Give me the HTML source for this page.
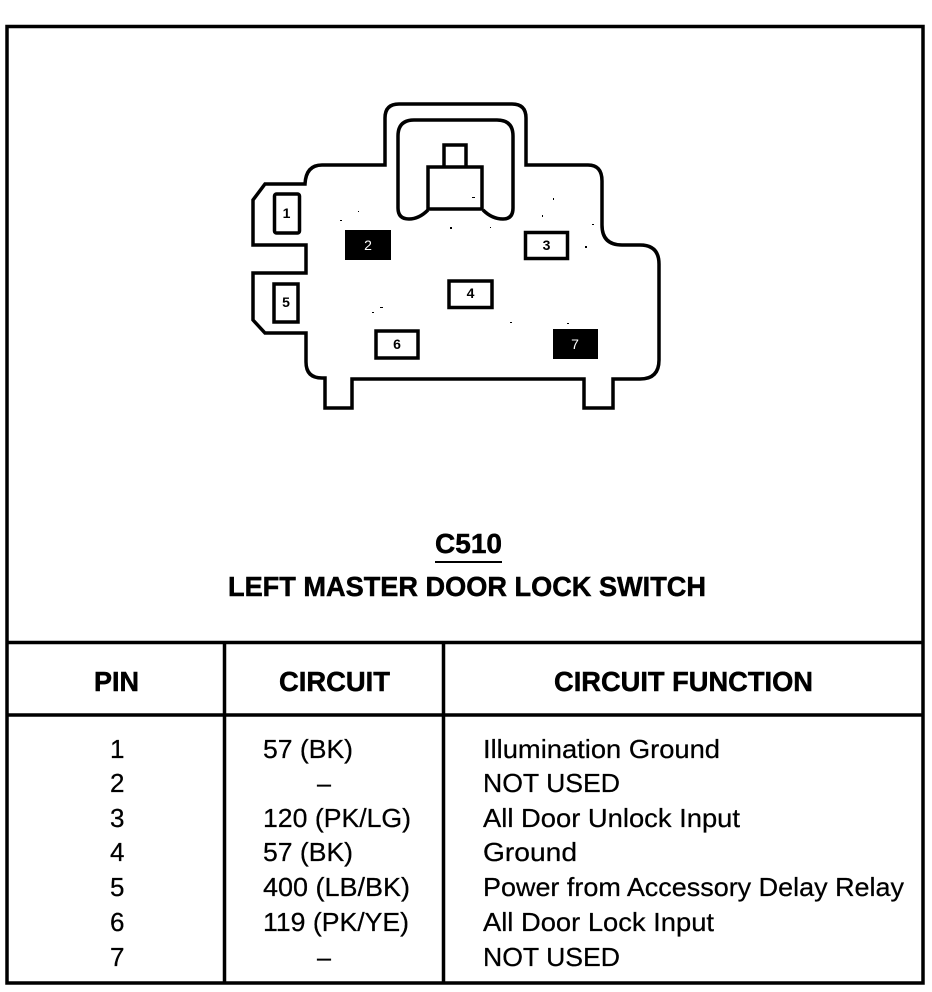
<!DOCTYPE html>
<html><head><meta charset="utf-8"><style>
html,body{margin:0;padding:0;background:#fff}
svg{display:block}
text{font-family:"Liberation Sans",Arial,sans-serif;fill:#000}
.b{font-weight:bold;font-size:28px;stroke:#000;stroke-width:.5}
.r{font-size:26px;stroke:#000;stroke-width:.25}
.p{font-size:14px;font-weight:bold;text-anchor:middle}
</style></head><body>
<svg width="932" height="992" viewBox="0 0 932 992" xmlns="http://www.w3.org/2000/svg">
<g fill="none" stroke="#000" stroke-width="3.5">
<rect x="7" y="26.500" width="916" height="956.500"/>
<path d="M7 642.500H923M7 715H923M224.500 642V983M443.500 642V983"/>
<path stroke-width="3.500" d="M385 165V118Q385 104 399 104H512Q526 104 526 118V165H588Q602 165 602 181V225Q602 245 622 245H640Q659 245 659 264V360Q659 379 640 379H613V408H584V379H352V408H325V378H322Q306 378 306 362V333H265L253 320V273H306V245H253V200L265 184H305Q306 165 322 165Z"/>
<path fill="#fff" stroke-width="3.500" d="M428 210Q419 219 409 219Q398 219 398 208V136Q398 120 414 120H497Q513 120 513 136V208Q513 219 503 219Q492 219 483 210"/>
<path fill="#fff" stroke-width="3.500" d="M428 209V167H482V209ZM444 167V145H466V167"/>
<g fill="#fff" stroke-width="3.500">
<rect x="274.500" y="194" width="25" height="39" rx="2"/>
<rect x="274" y="284" width="24" height="38"/>
<rect x="525.500" y="232.500" width="42" height="26"/>
<rect x="449" y="281" width="43" height="26.500"/>
<rect x="376" y="331" width="42" height="27"/>
</g>
</g>
<rect x="345" y="230" width="46" height="30" fill="#000"/>
<rect x="553" y="329" width="45" height="30" fill="#000"/>
<g fill="#000">
<rect x="340" y="220" width="2" height="1"/><rect x="358" y="211" width="1" height="1"/><rect x="450" y="227" width="2" height="2"/><rect x="490" y="227" width="1" height="1"/><rect x="553" y="198" width="1" height="2"/><rect x="542" y="215" width="1" height="2"/><rect x="585" y="246" width="2" height="2"/><rect x="592" y="224" width="2" height="1"/><rect x="372" y="312" width="2" height="1"/><rect x="380" y="307" width="3" height="1"/><rect x="510" y="322" width="2" height="1"/><rect x="567" y="323" width="2" height="1"/><rect x="472" y="197" width="3" height="1"/>
</g>
<text class="p" x="286.500" y="218">1</text>
<text class="p" x="368" y="250" style="fill:#fff;font-weight:normal">2</text>
<text class="p" x="546.500" y="250">3</text>
<text class="p" x="470.500" y="298">4</text>
<text class="p" x="286" y="307">5</text>
<text class="p" x="397" y="349">6</text>
<text class="p" x="575" y="349" style="fill:#fff;font-weight:normal">7</text>
<text class="b" x="435" y="553" textLength="67" lengthAdjust="spacingAndGlyphs">C510</text>
<rect x="435" y="561" width="67" height="2" fill="#000"/>
<text class="b" x="228" y="596" textLength="478" lengthAdjust="spacingAndGlyphs">LEFT MASTER DOOR LOCK SWITCH</text>
<text class="b" x="94" y="691" textLength="45" lengthAdjust="spacingAndGlyphs">PIN</text>
<text class="b" x="279" y="691" textLength="111" lengthAdjust="spacingAndGlyphs">CIRCUIT</text>
<text class="b" x="554" y="691" textLength="259" lengthAdjust="spacingAndGlyphs">CIRCUIT FUNCTION</text>
<text class="r" x="110" y="758">1</text>
<text class="r" x="110" y="792">2</text>
<text class="r" x="110" y="827">3</text>
<text class="r" x="110" y="861">4</text>
<text class="r" x="110" y="896">5</text>
<text class="r" x="110" y="931">6</text>
<text class="r" x="110" y="966">7</text>
<text class="r" x="263" y="758" textLength="90" lengthAdjust="spacingAndGlyphs">57 (BK)</text>
<text class="r" x="317" y="792" textLength="14" lengthAdjust="spacingAndGlyphs">–</text>
<text class="r" x="263" y="827" textLength="148" lengthAdjust="spacingAndGlyphs">120 (PK/LG)</text>
<text class="r" x="263" y="861" textLength="90" lengthAdjust="spacingAndGlyphs">57 (BK)</text>
<text class="r" x="263" y="896" textLength="147" lengthAdjust="spacingAndGlyphs">400 (LB/BK)</text>
<text class="r" x="263" y="931" textLength="146" lengthAdjust="spacingAndGlyphs">119 (PK/YE)</text>
<text class="r" x="317" y="966" textLength="14" lengthAdjust="spacingAndGlyphs">–</text>
<text class="r" x="483" y="758" textLength="237" lengthAdjust="spacingAndGlyphs">Illumination Ground</text>
<text class="r" x="483" y="792" textLength="137" lengthAdjust="spacingAndGlyphs">NOT USED</text>
<text class="r" x="483" y="827" textLength="257" lengthAdjust="spacingAndGlyphs">All Door Unlock Input</text>
<text class="r" x="483" y="861" textLength="94" lengthAdjust="spacingAndGlyphs">Ground</text>
<text class="r" x="483" y="896" textLength="421" lengthAdjust="spacingAndGlyphs">Power from Accessory Delay Relay</text>
<text class="r" x="483" y="931" textLength="231" lengthAdjust="spacingAndGlyphs">All Door Lock Input</text>
<text class="r" x="483" y="966" textLength="137" lengthAdjust="spacingAndGlyphs">NOT USED</text>
</svg>
</body></html>
